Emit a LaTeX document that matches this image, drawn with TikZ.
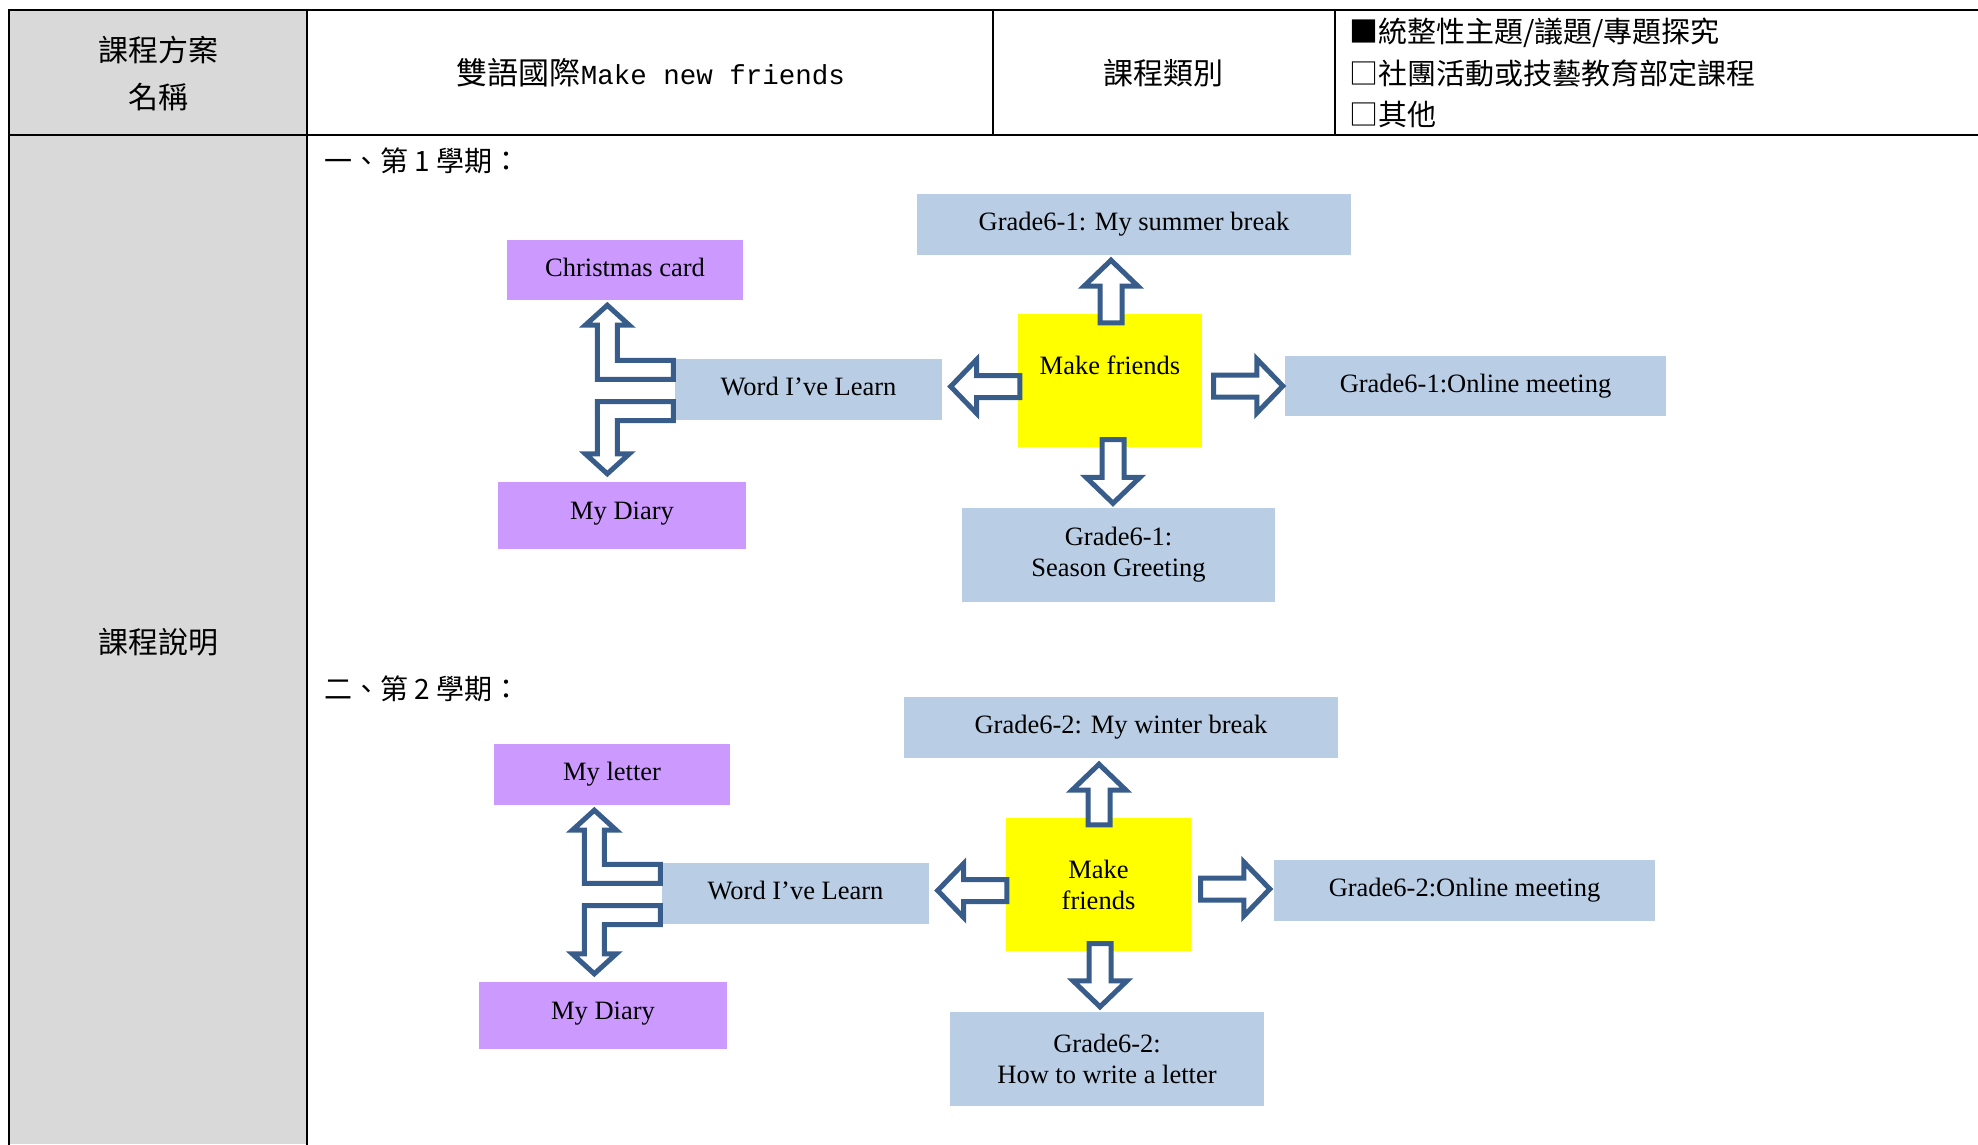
\documentclass[tikz,border=0pt]{standalone}
\usepackage{fontspec}
\setmainfont{Liberation Serif}
\newfontfamily\cjk{Noto Sans CJK TC}
\newfontfamily\monofam{Liberation Mono}
\usetikzlibrary{calc}
\definecolor{cellgray}{HTML}{D9D9D9}
\definecolor{boxblue}{HTML}{B9CDE5}
\definecolor{boxpurple}{HTML}{CC99FF}
\definecolor{boxyellow}{HTML}{FFFF00}
\definecolor{arrowblue}{HTML}{385D8A}

% straight block arrow: #1 tail coordinate, #2 tip coordinate
\newcommand\blkarrow[2]{%
  \coordinate (ba-h) at ($(#2)!26pt!(#1)$);
  \draw[blk] ($(#1)!11pt!90:(#2)$) -- ($(ba-h)!11pt!90:(#2)$) -- ($(ba-h)!27pt!90:(#2)$)
    -- (#2) -- ($(ba-h)!27pt!-90:(#2)$) -- ($(ba-h)!11pt!-90:(#2)$) -- ($(#1)!11pt!-90:(#2)$) -- cycle;}
% bent arrow from the left side of #1 up to #2
\newcommand\bentup[2]{%
  \draw[blk] ($(#1.north west)+(-1.5,1.5)$) -- ($(#1.north west)+(-57.5,1.5)$)
    -- ($(#1.north west |- #2.south)+(-57.5,25)$) -- ++(12,0) -- ++(-22,-20) -- ++(-22,20) -- ++(12,0)
    -- ($(#1.north west)+(-77.5,20.5)$) -- ($(#1.north west)+(-1.5,20.5)$) -- cycle;}
% bent arrow from the left side of #1 down to #2
\newcommand\bentdown[2]{%
  \draw[blk] ($(#1.south west)+(-1.5,-18.5)$) -- ($(#1.south west)+(-77.5,-18.5)$)
    -- ($(#1.south west |- #2.north)+(-77.5,-28)$) -- ++(-12,0) -- ++(22,20) -- ++(22,-20) -- ++(-12,0)
    -- ($(#1.south west)+(-57.5,0.5)$) -- ($(#1.south west)+(-1.5,0.5)$) -- cycle;}

\begin{document}
\begin{tikzpicture}[x=1pt,y=-1pt,
  tbl/.style={line width=2.5pt, line cap=rect},
  bbox/.style={rectangle, inner sep=0pt, font=\fontsize{26.5}{31}\selectfont, text height=18pt, text depth=6pt},
  bluebox/.style={bbox, fill=boxblue},
  purplebox/.style={bbox, fill=boxpurple},
  mbox/.style={rectangle, inner sep=0pt, fill=boxblue, align=center, font=\fontsize{26.5}{31}\selectfont},
  ybox/.style={rectangle, inner sep=0pt, fill=boxyellow, align=center, font=\fontsize{26.5}{31}\selectfont},
  cjkl/.style={inner sep=0pt, font=\cjk\fontsize{30}{47}\selectfont, align=center},
  cjks/.style={inner sep=0pt, font=\cjk\fontsize{28}{34}\selectfont, text height=24.6pt, text depth=3.4pt, anchor=west},
  blk/.style={draw=arrowblue, fill=white, line width=5pt, line join=miter}]
\useasboundingbox (0,0) rectangle (1978,1144);

% table
\fill[cellgray] (9,10) rectangle (307,1144);
\draw[tbl] (9,10) -- (1978,10);
\draw[tbl] (9,135) -- (1978,135);
\draw[tbl] (9,10) -- (9,1144);
\draw[tbl] (307,10) -- (307,1144);
\draw[tbl] (993,10) -- (993,135);
\draw[tbl] (1335,10) -- (1335,135);

\node[cjkl] (hname) at (158,73.5) {課程方案\\名稱};
\node[inner sep=0pt] (title) at (651,73) {{\cjk\fontsize{31}{36}\selectfont 雙語國際}{\monofam\fontsize{27.5}{36}\selectfont Make new friends}};
\node[cjkl] (htype) at (1163,73) {課程類別};
\node[cjks, font=\cjk\fontsize{29}{34}\selectfont] (opt1) at (1349,32) {■統整性主題/議題/專題探究};
\node[cjks, font=\cjk\fontsize{29}{34}\selectfont] (opt2) at (1349,74) {□社團活動或技藝教育部定課程};
\node[cjks, font=\cjk\fontsize{29}{34}\selectfont] (opt3) at (1349,115) {□其他};
\node[cjkl] (hdesc) at (158,642) {課程說明};
\node[cjks] (sem1) at (324,161) {一、第 1 學期：};
\node[cjks] (sem2) at (324,689) {二、第 2 學期：};

% semester 1
\node[bluebox, minimum width=434, minimum height=61] (sb1) at (1134,224.5) {Grade6-1: My summer break};
\node[purplebox, minimum width=236, minimum height=60] (cc1) at (625,270) {Christmas card};
\node[bluebox, minimum width=267, minimum height=61] (wl1) at (808.5,389.5) {Word I’ve Learn};
\node[ybox, minimum width=184, text height=60pt, text depth=73pt] (mf1) at (1110,380.5) {Make friends};
\node[bluebox, minimum width=381, minimum height=60] (ol1) at (1475.5,386) {Grade6-1:Online meeting};
\node[purplebox, minimum width=248, minimum height=67, text depth=11pt] (md1) at (622,515.5) {My Diary};
\node[mbox, minimum width=313, minimum height=94] (sg1) at (1118.5,555) {Grade6-1:\\Season Greeting};

\coordinate (u1t) at ($(mf1.north)+(1,9)$);
\coordinate (u1h) at ($(u1t |- sb1.south)+(0,5)$);
\blkarrow{u1t}{u1h}
\coordinate (r1t) at ($(mf1.east)+(11.5,5.5)$);
\coordinate (r1h) at ($(r1t -| ol1.west)+(-2,0)$);
\blkarrow{r1t}{r1h}
\coordinate (l1t) at ($(mf1.west)+(2,6)$);
\coordinate (l1h) at ($(l1t -| wl1.east)+(8.5,0)$);
\blkarrow{l1t}{l1h}
\coordinate (d1t) at ($(mf1.south)+(3,-7.5)$);
\coordinate (d1h) at ($(d1t |- sg1.north)+(0,-4.5)$);
\blkarrow{d1t}{d1h}
\bentup{wl1}{cc1}
\bentdown{wl1}{md1}

% semester 2
\node[bluebox, minimum width=434, minimum height=61] (wb2) at (1121,727.5) {Grade6-2: My winter break};
\node[purplebox, minimum width=236, minimum height=61] (ml2) at (612,774.5) {My letter};
\node[bluebox, minimum width=267, minimum height=61] (wl2) at (795.5,893.5) {Word I’ve Learn};
\node[ybox, minimum width=185, minimum height=133] (mf2) at (1098.5,884.5) {Make\\friends};
\node[bluebox, minimum width=381, minimum height=61] (ol2) at (1464.5,890.5) {Grade6-2:Online meeting};
\node[purplebox, minimum width=248, minimum height=67, text depth=11pt] (md2) at (603,1015.5) {My Diary};
\node[mbox, minimum width=314, minimum height=94] (hw2) at (1107,1059) {Grade6-2:\\How to write a letter};

\coordinate (u2t) at ($(mf2.north)+(0.5,7)$);
\coordinate (u2h) at ($(u2t |- wb2.south)+(0,6)$);
\blkarrow{u2t}{u2h}
\coordinate (r2t) at ($(mf2.east)+(9.5,4.5)$);
\coordinate (r2h) at ($(r2t -| ol2.west)+(-4,0)$);
\blkarrow{r2t}{r2h}
\coordinate (l2t) at ($(mf2.west)+(1,6)$);
\coordinate (l2h) at ($(l2t -| wl2.east)+(8.5,0)$);
\blkarrow{l2t}{l2h}
\coordinate (d2t) at ($(mf2.south)+(1.5,-7.5)$);
\coordinate (d2h) at ($(d2t |- hw2.north)+(0,-5)$);
\blkarrow{d2t}{d2h}
\bentup{wl2}{ml2}
\bentdown{wl2}{md2}
\end{tikzpicture}
\end{document}
